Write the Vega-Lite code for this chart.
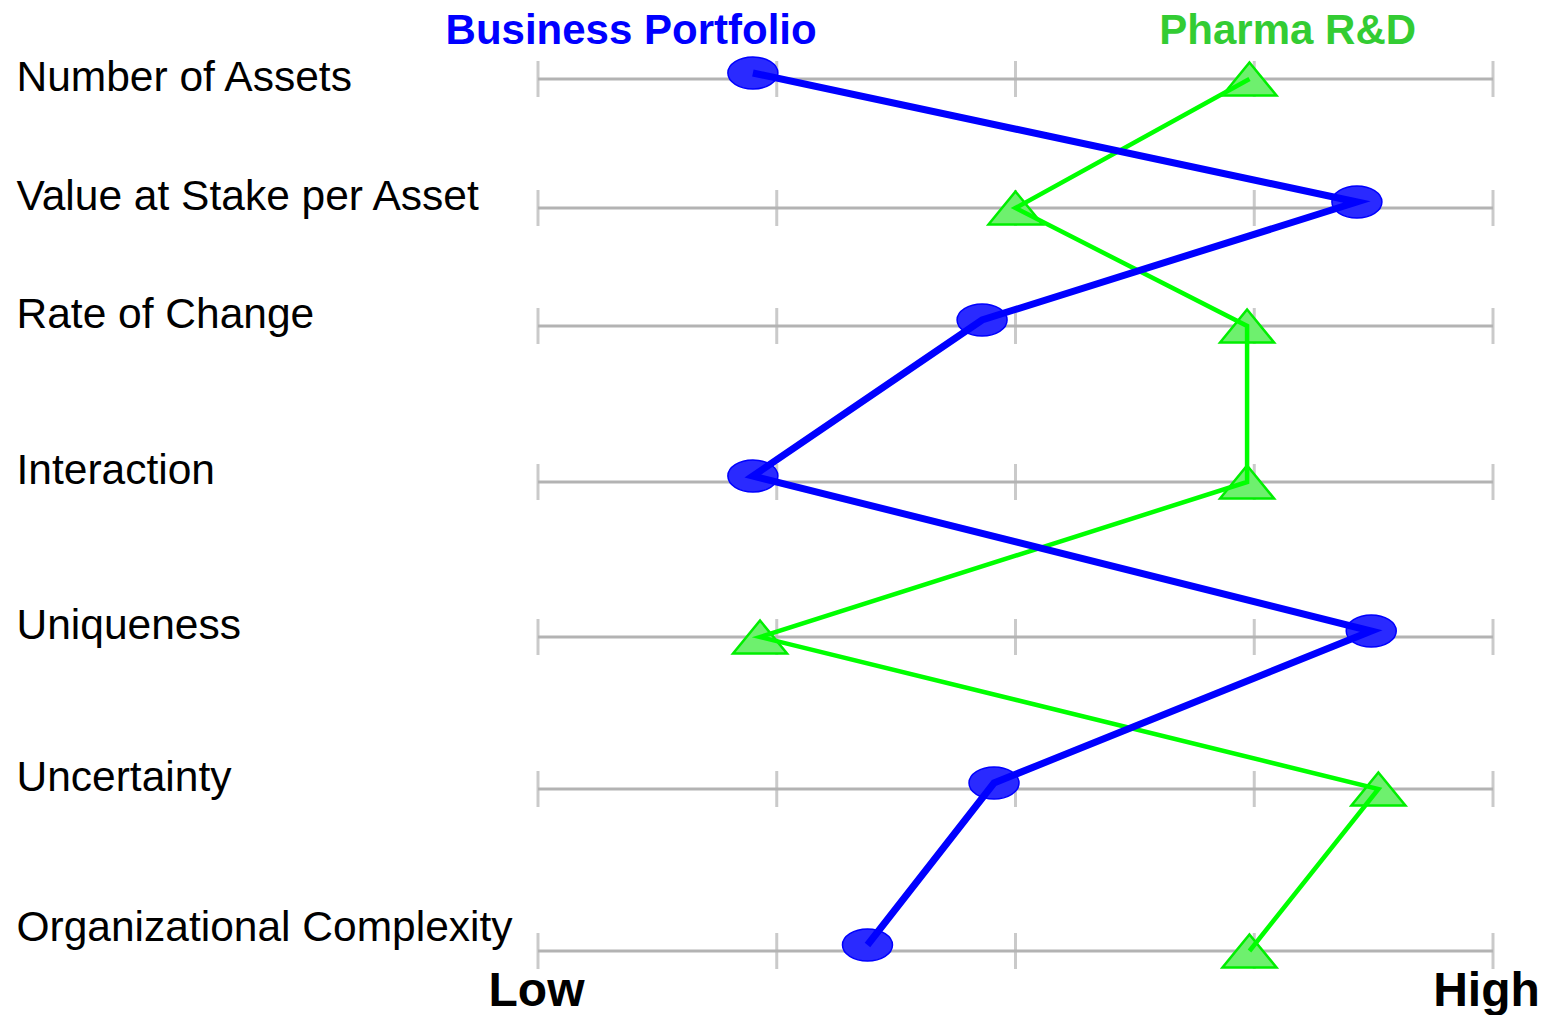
{
  "$schema": "https://vega.github.io/schema/vega-lite/v6.json",
  "autosize": "none",
  "width": 955,
  "height": 965,
  "padding": {"left": 538, "top": 0, "right": 53, "bottom": 50},
  "background": "white",
  "config": {"view": {"stroke": null}, "font": "Liberation Sans"},
  "datasets": {
    "rows": [
      {"category": "Number of Assets", "row": 1, "marks": [0, 1, 2, 3, 4]},
      {"category": "Value at Stake per Asset", "row": 2, "marks": [0, 1, 2, 3, 4]},
      {"category": "Rate of Change", "row": 3, "marks": [0, 1, 2, 3, 4]},
      {"category": "Interaction", "row": 4, "marks": [0, 1, 2, 3, 4]},
      {"category": "Uniqueness", "row": 5, "marks": [0, 1, 2, 3, 4]},
      {"category": "Uncertainty", "row": 6, "marks": [0, 1, 2, 3, 4]},
      {"category": "Organizational Complexity", "row": 7, "marks": [0, 1, 2, 3, 4]}
    ],
    "scores": [
      {"series": "Business Portfolio", "category": "Number of Assets", "row": 1, "value": 0.90},
      {"series": "Business Portfolio", "category": "Value at Stake per Asset", "row": 2, "value": 3.43},
      {"series": "Business Portfolio", "category": "Rate of Change", "row": 3, "value": 1.86},
      {"series": "Business Portfolio", "category": "Interaction", "row": 4, "value": 0.90},
      {"series": "Business Portfolio", "category": "Uniqueness", "row": 5, "value": 3.49},
      {"series": "Business Portfolio", "category": "Uncertainty", "row": 6, "value": 1.91},
      {"series": "Business Portfolio", "category": "Organizational Complexity", "row": 7, "value": 1.38},
      {"series": "Pharma R&D", "category": "Number of Assets", "row": 1, "value": 2.98},
      {"series": "Pharma R&D", "category": "Value at Stake per Asset", "row": 2, "value": 2.0},
      {"series": "Pharma R&D", "category": "Rate of Change", "row": 3, "value": 2.97},
      {"series": "Pharma R&D", "category": "Interaction", "row": 4, "value": 2.97},
      {"series": "Pharma R&D", "category": "Uniqueness", "row": 5, "value": 0.93},
      {"series": "Pharma R&D", "category": "Uncertainty", "row": 6, "value": 3.52},
      {"series": "Pharma R&D", "category": "Organizational Complexity", "row": 7, "value": 2.98}
    ],
    "titles": [
      {"series": "Business Portfolio"},
      {"series": "Pharma R&D"}
    ]
  },
  "layer": [
    {
      "data": {"name": "rows"},
      "mark": {"type": "rule", "color": "#b3b3b3", "strokeWidth": 3},
      "encoding": {
        "x": {"datum": 0, "type": "quantitative", "scale": {"domain": [0, 4]},
          "axis": {"values": [0, 4], "labelExpr": "datum.value == 0 ? 'Low' : 'High'", "title": null, "domain": false, "ticks": false, "grid": false, "labelFlush": false, "labelOverlap": false, "labelPadding": 40, "labelBaseline": "alphabetic", "labelFont": "Liberation Sans", "labelFontWeight": "bold", "labelFontSize": 48, "labelColor": "#000000", "labelAlign": "center",
            "labelOffset": {"condition": {"test": "datum.value == 4", "value": -7}, "value": -2}}},
        "x2": {"datum": 4},
        "y": {"field": "row", "type": "quantitative",
          "scale": {"domain": [1, 2, 3, 4, 5, 6, 7], "range": [79, 208, 326, 482, 637, 789, 951], "zero": false, "nice": false},
          "axis": {"values": [1, 2, 3, 4, 5, 6, 7], "labelExpr": "['Number of Assets','Value at Stake per Asset','Rate of Change','Interaction','Uniqueness','Uncertainty','Organizational Complexity'][datum.value - 1]", "title": null, "domain": false, "ticks": false, "grid": false, "labelAlign": "left", "labelBaseline": "middle", "labelPadding": 522, "labelLimit": 700, "labelFont": "Liberation Sans", "labelFontSize": 42.5, "labelColor": "#000000", "labelOverlap": false,
            "labelOffset": {"condition": [{"test": "datum.value == 1", "value": -2}, {"test": "datum.value == 7", "value": -24}], "value": -12}}}
      }
    },
    {
      "data": {"name": "rows"},
      "transform": [{"flatten": ["marks"]}],
      "mark": {"type": "tick", "color": "#b3b3b3", "thickness": 3, "size": 36, "orient": "vertical"},
      "encoding": {
        "x": {"field": "marks", "type": "quantitative"},
        "y": {"field": "row", "type": "quantitative"}
      }
    },
    {
      "data": {"name": "scores"},
      "transform": [{"filter": "datum.series == 'Business Portfolio'"}],
      "mark": {"type": "point", "shape": "M -1 0 A 1 0.64 0 1 0 1 0 A 1 0.64 0 1 0 -1 0 Z", "size": 2500, "filled": true, "fill": "#2a2aff", "stroke": "#0000ff", "strokeWidth": 1.5, "opacity": 1, "yOffset": -6},
      "encoding": {
        "x": {"field": "value", "type": "quantitative"},
        "y": {"field": "row", "type": "quantitative"}
      }
    },
    {
      "data": {"name": "scores"},
      "transform": [{"filter": "datum.series == 'Pharma R&D'"}],
      "mark": {"type": "point", "shape": "M 0 -0.61 L 1 0.61 L -1 0.61 Z", "size": 2916, "filled": true, "fill": "#6ef06e", "stroke": "#00ee00", "strokeWidth": 2.5, "opacity": 1},
      "encoding": {
        "x": {"field": "value", "type": "quantitative"},
        "y": {"field": "row", "type": "quantitative"}
      }
    },
    {
      "data": {"name": "scores"},
      "transform": [{"filter": "datum.series == 'Pharma R&D'"}],
      "mark": {"type": "line", "color": "#00ff00", "strokeWidth": 4.5},
      "encoding": {
        "x": {"field": "value", "type": "quantitative"},
        "y": {"field": "row", "type": "quantitative"},
        "order": {"field": "row"}
      }
    },
    {
      "data": {"name": "scores"},
      "transform": [{"filter": "datum.series == 'Business Portfolio'"}],
      "mark": {"type": "line", "color": "#0000ff", "strokeWidth": 7, "yOffset": -6},
      "encoding": {
        "x": {"field": "value", "type": "quantitative"},
        "y": {"field": "row", "type": "quantitative"},
        "order": {"field": "row"}
      }
    },
    {
      "data": {"name": "titles"},
      "mark": {"type": "text", "font": "Liberation Sans", "fontWeight": "bold", "fontSize": 42, "align": "center", "baseline": "alphabetic"},
      "encoding": {
        "x": {"datum": 0.39},
        "y": {"datum": 0.73},
        "text": {"field": "series"},
        "color": {"field": "series", "type": "nominal", "scale": {"domain": ["Business Portfolio", "Pharma R&D"], "range": ["#0000ff", "#33cc33"]}, "legend": null}
      },
      "transform": [{"filter": "datum.series == 'Business Portfolio'"}]
    },
    {
      "data": {"name": "titles"},
      "mark": {"type": "text", "font": "Liberation Sans", "fontWeight": "bold", "fontSize": 42, "align": "center", "baseline": "alphabetic"},
      "encoding": {
        "x": {"datum": 3.14},
        "y": {"datum": 0.73},
        "text": {"field": "series"},
        "color": {"field": "series", "type": "nominal", "legend": null}
      },
      "transform": [{"filter": "datum.series == 'Pharma R&D'"}]
    }
  ]
}
